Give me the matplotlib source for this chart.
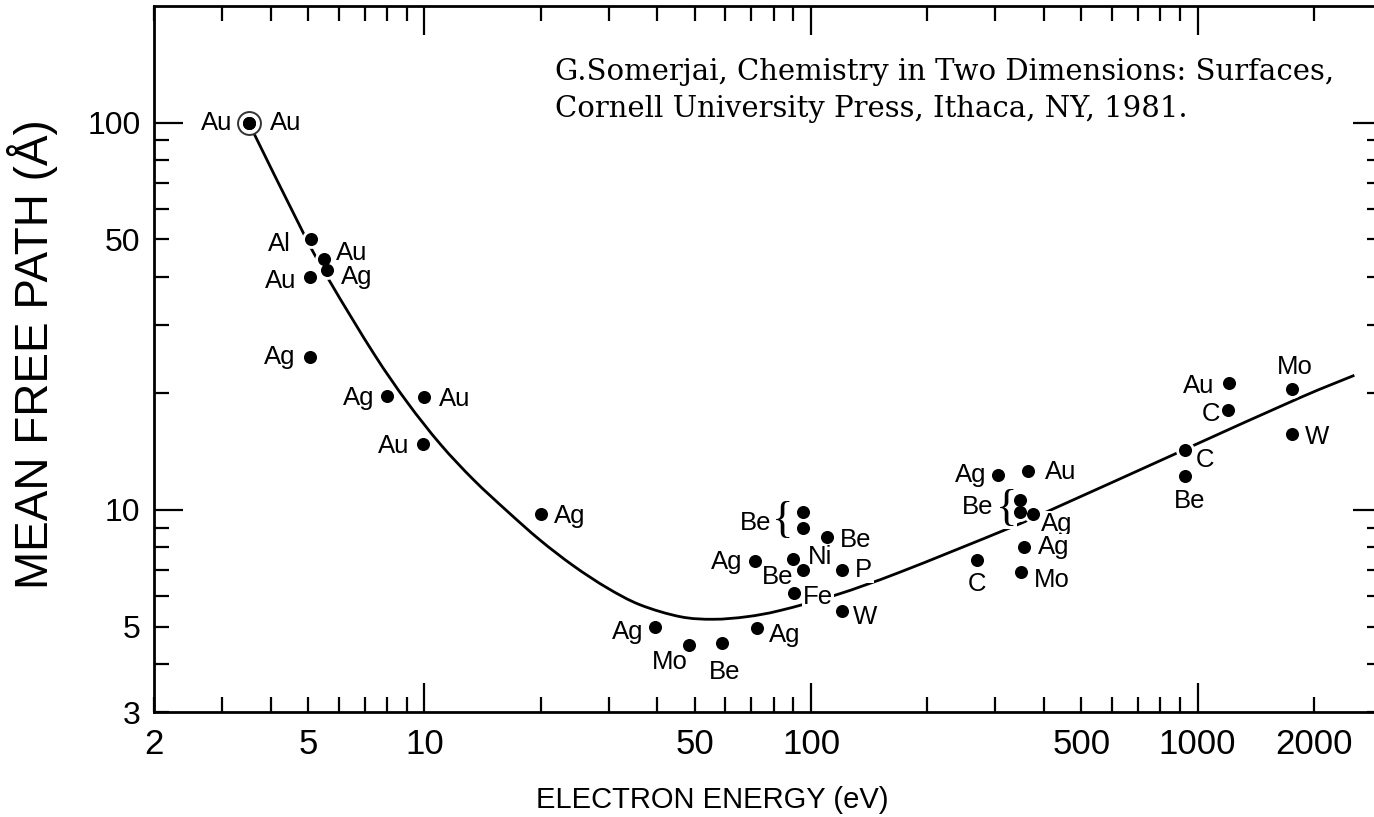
import matplotlib
matplotlib.use("Agg")
import numpy as np
import matplotlib.pyplot as plt
from matplotlib.path import Path
from matplotlib.patches import PathPatch
from matplotlib.ticker import FixedLocator, FuncFormatter

DPI = 100
W_PX, H_PX = 1374, 817
SANS = ["Liberation Sans", "DejaVu Sans"]

# measured points: electron energy (eV), mean free path (angstrom), element
energy = [3.51, 3.51, 5.1, 5.48, 5.58, 5.07, 5.05, 8.0, 10.0, 9.9, 20.0,
          39.5, 48.2, 58.8, 72.4, 71.6, 95.2, 95.2, 109.8, 89.9, 95.2, 120.5, 90.4, 120.5,
          305, 364, 348, 348, 375, 355, 350, 268,
          929, 929, 1203, 1196, 1757, 1760]
mean_free_path = [100, 100, 50, 44.6, 41.6, 39.9, 24.8, 19.7, 19.6, 14.8, 9.77,
                  5.0, 4.49, 4.52, 4.95, 7.36, 9.86, 9.0, 8.5, 7.46, 6.98, 7.0, 6.1, 5.47,
                  12.3, 12.6, 10.6, 9.9, 9.77, 8.04, 6.91, 7.43,
                  14.28, 12.24, 21.3, 18.1, 20.5, 15.7]
element = ["Au", "Au", "Al", "Au", "Ag", "Au", "Ag", "Ag", "Au", "Au", "Ag",
           "Ag", "Mo", "Be", "Ag", "Ag", "Be", "", "Be", "Ni", "Be", "P", "Fe", "W",
           "Ag", "Au", "Be", "", "Ag", "Ag", "Mo", "C",
           "C", "Be", "Au", "C", "Mo", "W"]

# the two Au points at the top share one circled mark
circled = 0
# pairs of points grouped under one label with a brace
brace_groups = [(16, 17), (26, 27)]

# universal curve
curve_energy = [3.51, 4.87, 5.71, 7.40, 9.02, 11.0, 13.4, 16.4, 19.9, 24.3, 29.7, 36.1,
                45.9, 55.9, 68.2, 83.2, 116.5, 170, 320, 423, 863, 992, 1835, 2545]
curve_mfp = [100, 51.7, 38.7, 25.3, 18.98, 14.77, 11.96, 9.91, 8.36, 7.17, 6.29, 5.69,
             5.30, 5.22, 5.30, 5.50, 6.04, 6.91, 8.91, 10.06, 13.87, 14.78, 19.47, 22.27]

x_tick_labels = [2, 5, 10, 50, 100, 500, 1000, 2000]
y_tick_labels = [3, 5, 10, 50, 100]

# label placement next to each dot: alignment, dx, dy in pixels (dy down, to cap centre)
label_layout = [("right", -16, -2), ("left", 21, -2), ("right", -21, 2), ("left", 12, -8),
                ("left", 14, 5), ("right", -14, 2), ("right", -14, -2), ("right", -13, 0),
                ("left", 14, 0), ("right", -13, 0), ("left", 13, 0),
                ("right", -12, 3), ("right", -1, 15), ("center", 3, 26), ("left", 12, 5),
                ("right", -12, -2), ("right", -31, 8), None, ("left", 13, 1),
                ("left", 15, -4), ("right", -9, 4), ("left", 13, -2), ("left", 9, 2),
                ("left", 11, 3),
                ("right", -12, -2), ("left", 17, -1), ("right", -27, 5), None,
                ("left", 8, 8), ("left", 14, -2), ("left", 13, 6), ("center", 0, 22),
                ("left", 11, 8), ("center", 4, 23), ("right", -14, 1), ("right", -7, 2),
                ("center", 3, -24), ("left", 12, 1)]
brace_layout = [(-20, 9), (-14, 9)]


def px_to_pt(v):
    """Pixel distance to points at the figure dpi"""
    return v * 72.0 / DPI


def decade_ticks(lo, hi):
    """All 1..9 x 10^n positions inside [lo, hi]"""
    ticks = []
    for p in range(-1, 5):
        for m in range(1, 10):
            v = m * 10 ** p
            if lo <= v <= hi:
                ticks.append(v)
    return ticks


def label_formatter(labelled):
    def fmt(v, pos):
        for t in labelled:
            if abs(v - t) < 1e-6 * t:
                return f"{t:g}"
        return ""
    return FuncFormatter(fmt)


def smooth_log_path(xs, ys):
    """Bezier path through the points, smooth in log-log space (Catmull-Rom handles)"""
    p = np.column_stack([np.log10(xs), np.log10(ys)])
    n = len(p)
    verts = [p[0]]
    codes = [Path.MOVETO]
    for i in range(n - 1):
        p0 = p[i - 1] if i > 0 else p[i]
        p3 = p[i + 2] if i + 2 < n else p[i + 1]
        c1 = p[i] + (p[i + 1] - p0) / 6.0
        c2 = p[i + 1] - (p3 - p[i]) / 6.0
        verts += [c1, c2, p[i + 1]]
        codes += [Path.CURVE4] * 3
    return Path(10 ** np.array(verts), codes)


fig = plt.figure(figsize=(W_PX / DPI, H_PX / DPI), dpi=DPI)
left, right, top, bottom = 154.3, 1382, 6.2, 712.4
ax = fig.add_axes([left / W_PX, 1 - bottom / H_PX, (right - left) / W_PX, (bottom - top) / H_PX])
ax.set_xscale("log")
ax.set_yscale("log")
ax.set_xlim(2, 3000)
ax.set_ylim(3, 200)

# curve first, dots with white halos on top of it
ax.add_patch(PathPatch(smooth_log_path(curve_energy, curve_mfp), fill=False,
                       ec="black", lw=2.0, zorder=2))
ax.plot(energy, mean_free_path, "o", ms=13.5, color="white", mew=0, zorder=3)
ax.plot(energy[circled], mean_free_path[circled], "o", ms=16.5, mfc="white", mec="#333333",
        mew=1.4, zorder=3.6)
ax.plot(energy, mean_free_path, "o", ms=9.4, color="black", mew=0, zorder=4)

for i, name in enumerate(element):
    if not name:
        continue
    ha, dx, dy = label_layout[i]
    ax.annotate(name, (energy[i], mean_free_path[i]),
                xytext=(px_to_pt(dx), -px_to_pt(dy + 9.2)), textcoords="offset points",
                ha=ha, va="baseline", fontsize=18.5, family=SANS, zorder=3.5,
                bbox=dict(boxstyle="square,pad=0.05", fc="white", ec="none"))

for (i, j), (dx, dy) in zip(brace_groups, brace_layout):
    ax.annotate("{", (energy[i], mean_free_path[i]),
                xytext=(px_to_pt(dx), -px_to_pt(dy)), textcoords="offset points",
                ha="center", va="center", fontsize=32, family="Liberation Serif",
                zorder=3.5, bbox=dict(boxstyle="square,pad=0.0", fc="white", ec="none"))

# ticks: long at decades, short elsewhere, all pointing inwards on four sides
ax.xaxis.set_major_locator(FixedLocator([10, 100, 1000]))
ax.xaxis.set_minor_locator(FixedLocator([t for t in decade_ticks(2, 2000) if t not in (10, 100, 1000)]))
ax.yaxis.set_major_locator(FixedLocator([10, 100]))
ax.yaxis.set_minor_locator(FixedLocator([t for t in decade_ticks(3, 99) if t not in (10,)]))
for axis, labelled in ((ax.xaxis, x_tick_labels), (ax.yaxis, y_tick_labels)):
    axis.set_major_formatter(label_formatter(labelled))
    axis.set_minor_formatter(label_formatter(labelled))

ax.tick_params(which="both", direction="in", top=True, right=True, width=1.6, color="black")
ax.tick_params(which="major", length=21)
ax.tick_params(which="minor", length=11)
ax.tick_params(axis="x", which="both", labelsize=25, pad=11)
ax.tick_params(axis="y", which="both", labelsize=23, pad=10)
for lab in ax.get_xticklabels(which="both") + ax.get_yticklabels(which="both"):
    lab.set_family(SANS)
for s in ax.spines.values():
    s.set_linewidth(2.0)

fig.text(712 / W_PX, 1 - 808 / H_PX, "ELECTRON ENERGY (eV)", ha="center", va="baseline",
         fontsize=21, family=SANS)
fig.text(33 / W_PX, 1 - 354 / H_PX, "MEAN FREE PATH (Å)", rotation=90, ha="center",
         va="center", fontsize=33, family=SANS)

fig.text(555 / W_PX, 1 - 80 / H_PX, "G.Somerjai, Chemistry in Two Dimensions: Surfaces,",
         ha="left", va="baseline", fontsize=21, family="DejaVu Serif")
fig.text(555 / W_PX, 1 - 117 / H_PX, "Cornell University Press, Ithaca, NY, 1981.",
         ha="left", va="baseline", fontsize=21, family="DejaVu Serif")

fig.savefig("out.png", dpi=DPI)
